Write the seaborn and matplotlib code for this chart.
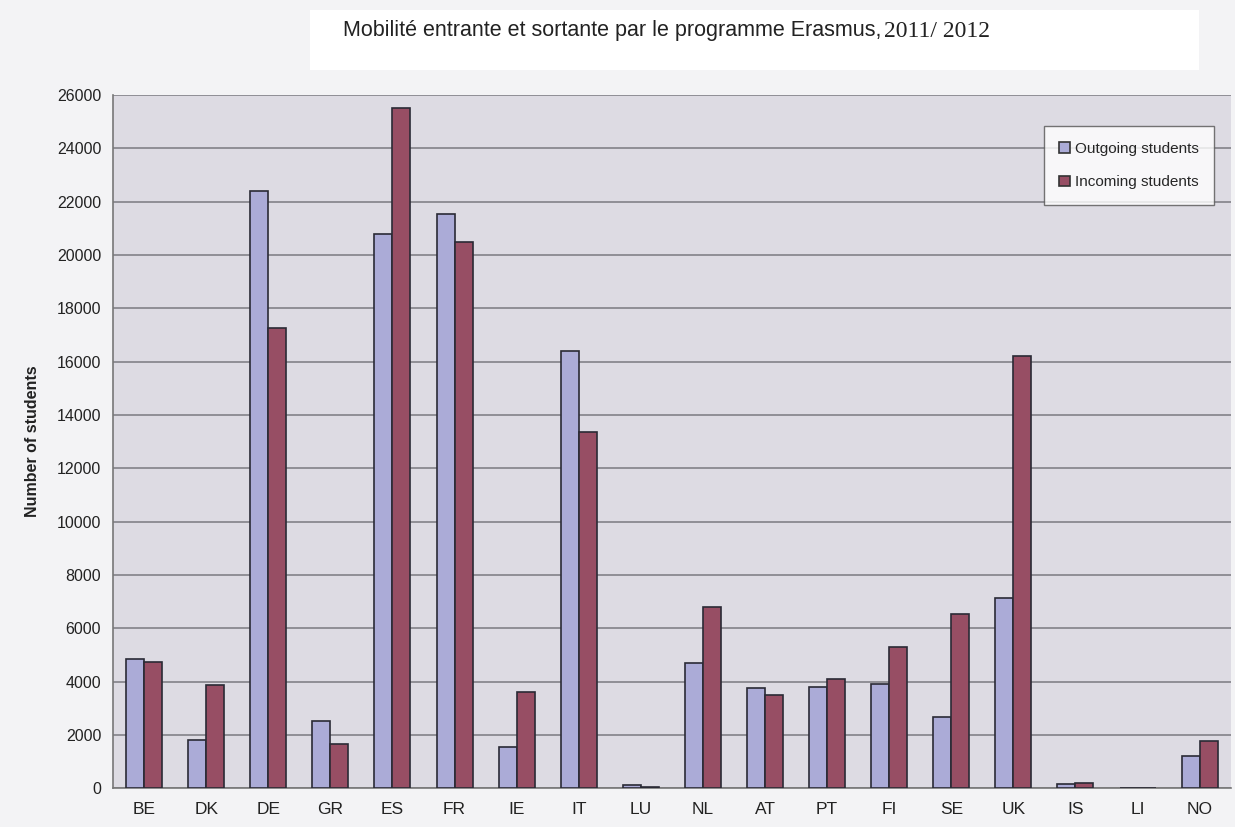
import matplotlib
matplotlib.use("Agg")
import matplotlib.pyplot as plt
import matplotlib.patches as mpatches
import seaborn as sns
import numpy as np
import pandas as pd

# Data
countries = ["BE", "DK", "DE", "GR", "ES", "FR", "IE", "IT", "LU",
             "NL", "AT", "PT", "FI", "SE", "UK", "IS", "LI", "NO"]
outgoing = [4850, 1800, 22400, 2500, 20800, 21550, 1550, 16400, 100,
            4700, 3750, 3800, 3900, 2650, 7150, 150, 20, 1200]
incoming = [4750, 3880, 17250, 1650, 25500, 20500, 3600, 13350, 50,
            6800, 3500, 4100, 5300, 6550, 16200, 200, 20, 1750]
series = ["Outgoing students", "Incoming students"]
yticks = list(range(0, 26001, 2000))

df = pd.DataFrame({
    "country": countries * 2,
    "students": outgoing + incoming,
    "series": [series[0]] * len(countries) + [series[1]] * len(countries),
})

sns.set_style("white")
plt.rcParams["font.family"] = ["Liberation Sans", "DejaVu Sans"]

fig = plt.figure(figsize=(12.35, 8.27), dpi=100, facecolor="#f3f3f5")
ax = fig.add_axes([0.0915, 0.047, 0.905, 0.838])
ax.set_facecolor("#dddbe3")

sns.barplot(data=df, x="country", y="students", hue="series",
            palette=["#a4a4de", "#a3425f"], width=0.58,
            edgecolor="#2a2a35", linewidth=1.2, ax=ax, zorder=3)

ax.set_ylim(0, 26000)
ax.set_xlim(-0.5, len(countries) - 0.5)
ax.set_yticks(yticks)
ax.set_yticklabels([str(v) for v in yticks], fontsize=11.5, color="#222222")
ax.yaxis.grid(True, color="#7a7a80", linewidth=1.1, zorder=0)
ax.tick_params(axis="y", length=5, color="#777777")
ax.tick_params(axis="x", which="major", length=0, labelsize=12.5, pad=10,
               labelcolor="#222222")
ax.set_xticks(np.arange(len(countries) - 1) + 0.5, minor=True)
ax.tick_params(axis="x", which="minor", length=5, color="#777777")

ax.set_xlabel("")
ax.set_ylabel("Number of students", fontsize=11.5, fontweight="bold",
              labelpad=12, color="#222222")

for side in ["top", "right"]:
    ax.spines[side].set_visible(False)
for side in ["left", "bottom"]:
    ax.spines[side].set_color("#777777")
    ax.spines[side].set_linewidth(1.2)

leg = ax.legend(loc="upper right", bbox_to_anchor=(0.985, 0.955),
                fontsize=11, frameon=True, fancybox=False,
                handlelength=0.7, handleheight=0.7, handletextpad=0.3,
                labelspacing=1.3, borderpad=1.0, borderaxespad=0)
leg.get_frame().set_facecolor("white")
leg.get_frame().set_edgecolor("#555555")
for h in leg.legend_handles:
    h.set_edgecolor("#333333")

# title box
fig.patches.append(mpatches.Rectangle((0.251, 0.915), 0.72, 0.073,
                                      transform=fig.transFigure,
                                      facecolor="white", edgecolor="none"))
t1 = fig.text(0.278, 0.963, "Mobilité entrante et sortante par le programme Erasmus,",
              fontsize=15.5, color="#222222", ha="left", va="center")
fig.canvas.draw()
bb = t1.get_window_extent(renderer=fig.canvas.get_renderer())
x_end = bb.x1 / fig.bbox.width
fig.text(x_end + 0.002, 0.962, "2011/ 2012", fontsize=17, color="#222222",
         ha="left", va="center", family="Liberation Serif")

fig.savefig("out.png", dpi=100, facecolor=fig.get_facecolor())
